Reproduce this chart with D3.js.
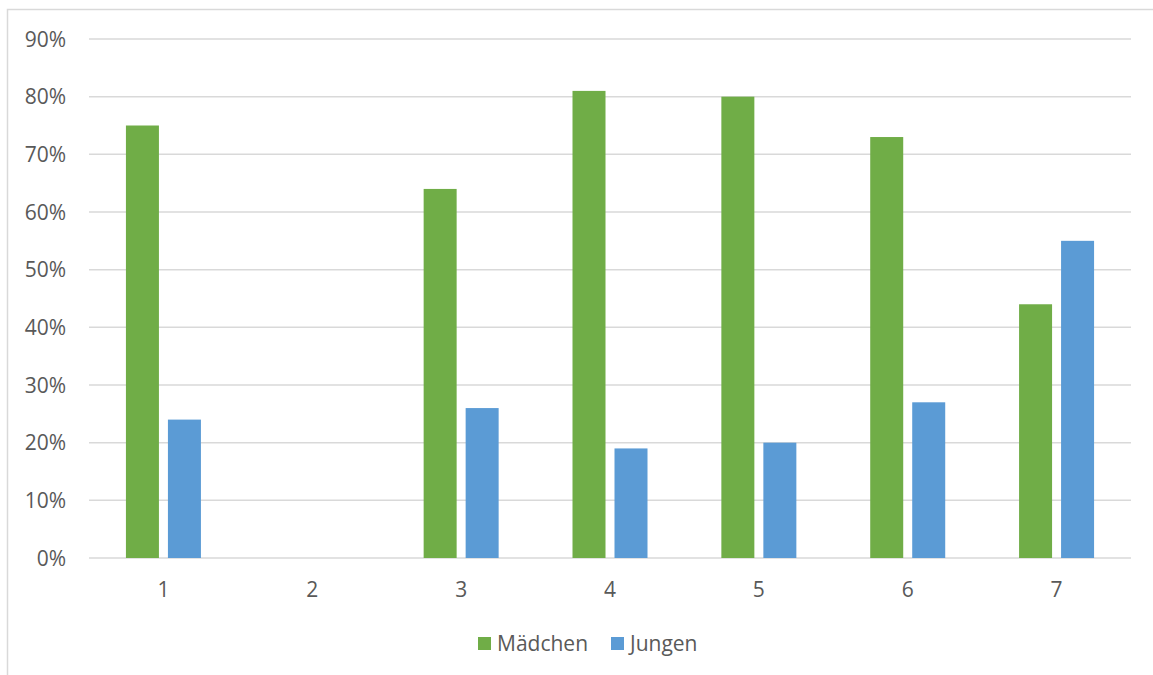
<!DOCTYPE html>
<html><head><meta charset="utf-8">
<script src="https://cdn.jsdelivr.net/npm/d3@7"></script>
<style>body{margin:0;background:#fff;} svg{display:block;}</style>
</head><body>
<script>
const categories = ["1","2","3","4","5","6","7"];
const maedchen = [0.75, null, 0.64, 0.81, 0.80, 0.73, 0.44];
const jungen = [0.24, null, 0.26, 0.19, 0.20, 0.27, 0.55];
const seriesNames = ["Mädchen","Jungen"];
const yTicks = [0,0.1,0.2,0.3,0.4,0.5,0.6,0.7,0.8,0.9];

const W=1153,H=675;
const svg=d3.select("body").append("svg").attr("width",W).attr("height",H);
const font="'Open Sans', 'Liberation Sans', sans-serif";
const fs=21;
svg.append("rect").attr("x",7.5).attr("y",9.5).attr("width",1160).attr("height",700)
  .attr("fill","#fff").attr("stroke","#D9D9D9").attr("stroke-width",1.5);

const x0=89,x1=1131;
const x=d3.scaleBand().domain(categories).range([x0,x1]);
const y=d3.scaleLinear().domain([0,0.9]).range([558,39]);
const colors=["#70AD47","#5B9BD5"];

svg.append("g").selectAll("line").data(yTicks).join("line")
  .attr("x1",x0).attr("x2",x1).attr("y1",d=>y(d)).attr("y2",d=>y(d))
  .attr("stroke","#D9D9D9").attr("stroke-width",1.5);

const yAxis=d3.axisLeft(y).tickValues(yTicks).tickFormat(d3.format(".0%")).tickSize(0).tickPadding(0);
const ya=svg.append("g").attr("transform","translate(66,0)").call(yAxis);
ya.select(".domain").remove();
ya.selectAll("text").attr("font-family",font).attr("font-size",fs).attr("fill","#595959").attr("dy","0.34em");

const xAxis=d3.axisBottom(x).tickSize(0).tickPadding(0);
const xa=svg.append("g").attr("transform","translate(0,597)").call(xAxis);
xa.select(".domain").remove();
xa.selectAll("text").attr("font-family",font).attr("font-size",fs).attr("fill","#595959").attr("y",0).attr("dy","0");

const bw=33, gap=9;
const series=[maedchen,jungen];
series.forEach((vals,si)=>{
  svg.append("g").selectAll("rect").data(categories.map((c,i)=>({c,v:vals[i]})).filter(d=>d.v!=null)).join("rect")
    .attr("x",d=>x(d.c)+x.bandwidth()/2 + (si===0 ? -gap/2-bw : gap/2))
    .attr("width",bw)
    .attr("y",d=>y(d.v)).attr("height",d=>y(0)-y(d.v))
    .attr("fill",colors[si]);
});

// legend
const leg=svg.append("g");
const legX=[478,611];
seriesNames.forEach((n,i)=>{
  leg.append("rect").attr("x",legX[i]).attr("y",637).attr("width",13).attr("height",13).attr("fill",colors[i]);
  leg.append("text").attr("x",legX[i]+19).attr("y",651)
    .attr("font-family",font).attr("font-size",fs).attr("fill","#595959").text(n);
});
</script>
</body></html>
